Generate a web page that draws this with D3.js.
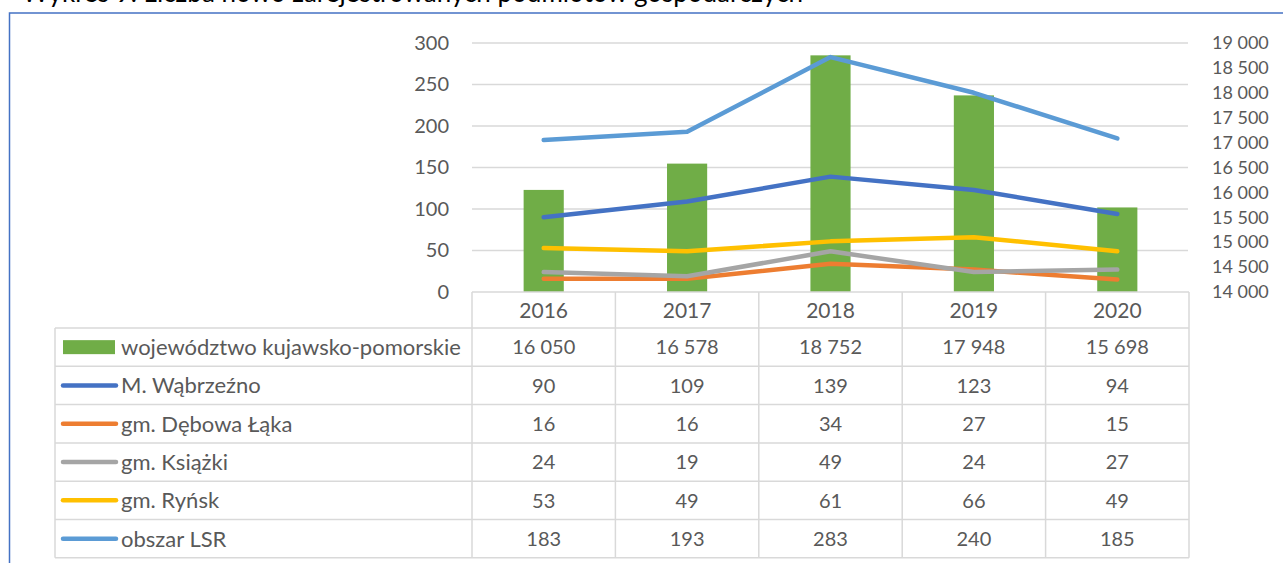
<!DOCTYPE html>
<html>
<head>
<meta charset="utf-8">
<script src="https://cdn.jsdelivr.net/npm/d3@7"></script>
<style>
  html, body { margin: 0; padding: 0; background: #ffffff; }
  svg { display: block; font-family: Lato, "Noto Sans", sans-serif; }
</style>
</head>
<body>
<div id="chart"></div>
<script>
// Data
var years = ["2016", "2017", "2018", "2019", "2020"];
var wojewodztwo = [16050, 16578, 18752, 17948, 15698];
var wabrzezno = [90, 109, 139, 123, 94];
var debowaLaka = [16, 16, 34, 27, 15];
var ksiazki = [24, 19, 49, 24, 27];
var rynsk = [53, 49, 61, 66, 49];
var obszarLSR = [183, 193, 283, 240, 185];

var barName = "województwo kujawsko-pomorskie";
var lineNames = ["M. Wąbrzeźno", "gm. Dębowa Łąka", "gm. Książki", "gm. Ryńsk", "obszar LSR"];
var lineValues = [wabrzezno, debowaLaka, ksiazki, rynsk, obszarLSR];
var lineColors = ["#4472C4", "#ED7D31", "#A5A5A5", "#FFC000", "#5B9BD5"];
var barColor = "#70AD47";

var leftDomain = [0, 300];
var rightDomain = [14000, 19000];

var width = 1283, height = 563;
var textColor = "#595959";
var gridColor = "#d9d9d9";

var locale = d3.formatLocale({decimal: ",", thousands: "\u00a0", grouping: [3]});
var fmt = locale.format(",d");

var svg = d3.select("#chart").append("svg")
    .attr("width", width)
    .attr("height", height);

// title (cut off at the top edge, as in the source page)
svg.append("text")
    .attr("x", 22)
    .attr("y", 2)
    .attr("fill", "#000000")
    .attr("font-size", 26)
    .text("Wykres 9. Liczba nowo zarejestrowanych podmiotów gospodarczych");

// blue frame
svg.append("rect")
    .attr("x", 9.5)
    .attr("y", 13)
    .attr("width", 1320)
    .attr("height", 600)
    .attr("fill", "#ffffff")
    .attr("stroke", "#4472C4")
    .attr("stroke-width", 1.5);

// Scales
var plotTop = 43, plotBottom = 292;
var gridLeft = 472, gridRight = 1188;

var yLeft = d3.scaleLinear().domain(leftDomain).range([plotBottom, plotTop]);
var yRight = d3.scaleLinear().domain(rightDomain).range([plotBottom, plotTop]);

var tableX = d3.scaleBand()
    .domain(years)
    .range([472, 1189]);

var x = d3.scaleBand()
    .domain(years)
    .range(tableX.range())
    .paddingInner(0.72)
    .paddingOuter(0.36);

// Gridlines
svg.append("g").selectAll("line")
    .data(yLeft.ticks(6).filter(function (d) { return d > 0; }))
    .join("line")
    .attr("x1", gridLeft)
    .attr("x2", gridRight)
    .attr("y1", function (d) { return yLeft(d); })
    .attr("y2", function (d) { return yLeft(d); })
    .attr("stroke", gridColor)
    .attr("stroke-width", 1.3);

// Left axis
var leftAxis = svg.append("g")
    .attr("transform", "translate(" + gridLeft + ",0)")
    .call(d3.axisLeft(yLeft).ticks(6).tickSize(0).tickPadding(23));
leftAxis.select(".domain").remove();
leftAxis.selectAll("text")
    .attr("fill", textColor)
    .attr("font-size", 20)
    .attr("font-family", "Lato, 'Noto Sans', sans-serif");

// Right axis
var rightAxis = svg.append("g")
    .attr("transform", "translate(" + gridRight + ",0)")
    .call(d3.axisRight(yRight).ticks(10).tickSize(0).tickPadding(24).tickFormat(fmt));
rightAxis.select(".domain").remove();
rightAxis.selectAll("text")
    .attr("fill", textColor)
    .attr("font-size", 18)
    .attr("font-family", "Lato, 'Noto Sans', sans-serif");

// Bars (secondary axis)
svg.append("g").selectAll("rect")
    .data(wojewodztwo)
    .join("rect")
    .attr("x", function (d, i) { return x(years[i]); })
    .attr("width", x.bandwidth())
    .attr("y", function (d) { return yRight(d); })
    .attr("height", function (d) { return yRight(rightDomain[0]) - yRight(d); })
    .attr("fill", barColor);

// Lines (primary axis)
var line = d3.line()
    .x(function (d, i) { return x(years[i]) + x.bandwidth() / 2; })
    .y(function (d) { return yLeft(d); });

svg.append("g").selectAll("path")
    .data(lineValues)
    .join("path")
    .attr("d", line)
    .attr("fill", "none")
    .attr("stroke", function (d, i) { return lineColors[i]; })
    .attr("stroke-width", 4.5)
    .attr("stroke-linecap", "round")
    .attr("stroke-linejoin", "round");

// Data table
var headerTop = plotBottom, headerBottom = 328;
var rowHeight = 38.3;
var labelLeft = 55;
var tableRight = tableX.range()[1];
var rows = [{name: barName, values: wojewodztwo, color: barColor, bar: true}];
lineNames.forEach(function (n, i) {
    rows.push({name: n, values: lineValues[i], color: lineColors[i], bar: false});
});
var tableBottom = headerBottom + rows.length * rowHeight;

var table = svg.append("g")
    .attr("stroke", gridColor)
    .attr("stroke-width", 1.5);

// horizontal borders
table.append("line")
    .attr("x1", gridLeft).attr("x2", tableRight)
    .attr("y1", headerTop).attr("y2", headerTop);
d3.range(rows.length + 1).forEach(function (r) {
    var yy = headerBottom + r * rowHeight;
    table.append("line")
        .attr("x1", labelLeft).attr("x2", tableRight)
        .attr("y1", yy).attr("y2", yy);
});
// vertical borders
table.append("line")
    .attr("x1", labelLeft).attr("x2", labelLeft)
    .attr("y1", headerBottom).attr("y2", tableBottom);
years.forEach(function (yr) {
    table.append("line")
        .attr("x1", tableX(yr)).attr("x2", tableX(yr))
        .attr("y1", headerTop).attr("y2", tableBottom);
});
table.append("line")
    .attr("x1", tableRight).attr("x2", tableRight)
    .attr("y1", headerTop).attr("y2", tableBottom);

// header years
svg.append("g").selectAll("text")
    .data(years)
    .join("text")
    .attr("x", function (d) { return tableX(d) + tableX.bandwidth() / 2; })
    .attr("y", (headerTop + headerBottom) / 2)
    .attr("dy", "0.36em")
    .attr("text-anchor", "middle")
    .attr("font-size", 21)
    .attr("fill", textColor)
    .text(function (d) { return d; });

// rows
var rowG = svg.append("g").selectAll("g")
    .data(rows)
    .join("g")
    .attr("transform", function (d, i) {
        return "translate(0," + (headerBottom + i * rowHeight + rowHeight / 2) + ")";
    });

rowG.each(function (d) {
    var g = d3.select(this);
    if (d.bar) {
        g.append("rect")
            .attr("x", 63).attr("y", -7)
            .attr("width", 52).attr("height", 14)
            .attr("fill", d.color);
    } else {
        g.append("line")
            .attr("x1", 63).attr("x2", 116)
            .attr("y1", 0).attr("y2", 0)
            .attr("stroke", d.color)
            .attr("stroke-width", 4.5)
            .attr("stroke-linecap", "round");
    }
    g.append("text")
        .attr("x", 121)
        .attr("dy", "0.36em")
        .attr("font-size", 22)
        .attr("fill", textColor)
        .text(d.name);
    g.selectAll("text.val")
        .data(d.values)
        .join("text")
        .attr("class", "val")
        .attr("x", function (v, i) { return tableX(years[i]) + tableX.bandwidth() / 2; })
        .attr("dy", "0.36em")
        .attr("text-anchor", "middle")
        .attr("font-size", 20)
        .attr("fill", textColor)
        .text(function (v) { return fmt(v); });
});
</script>
</body>
</html>
